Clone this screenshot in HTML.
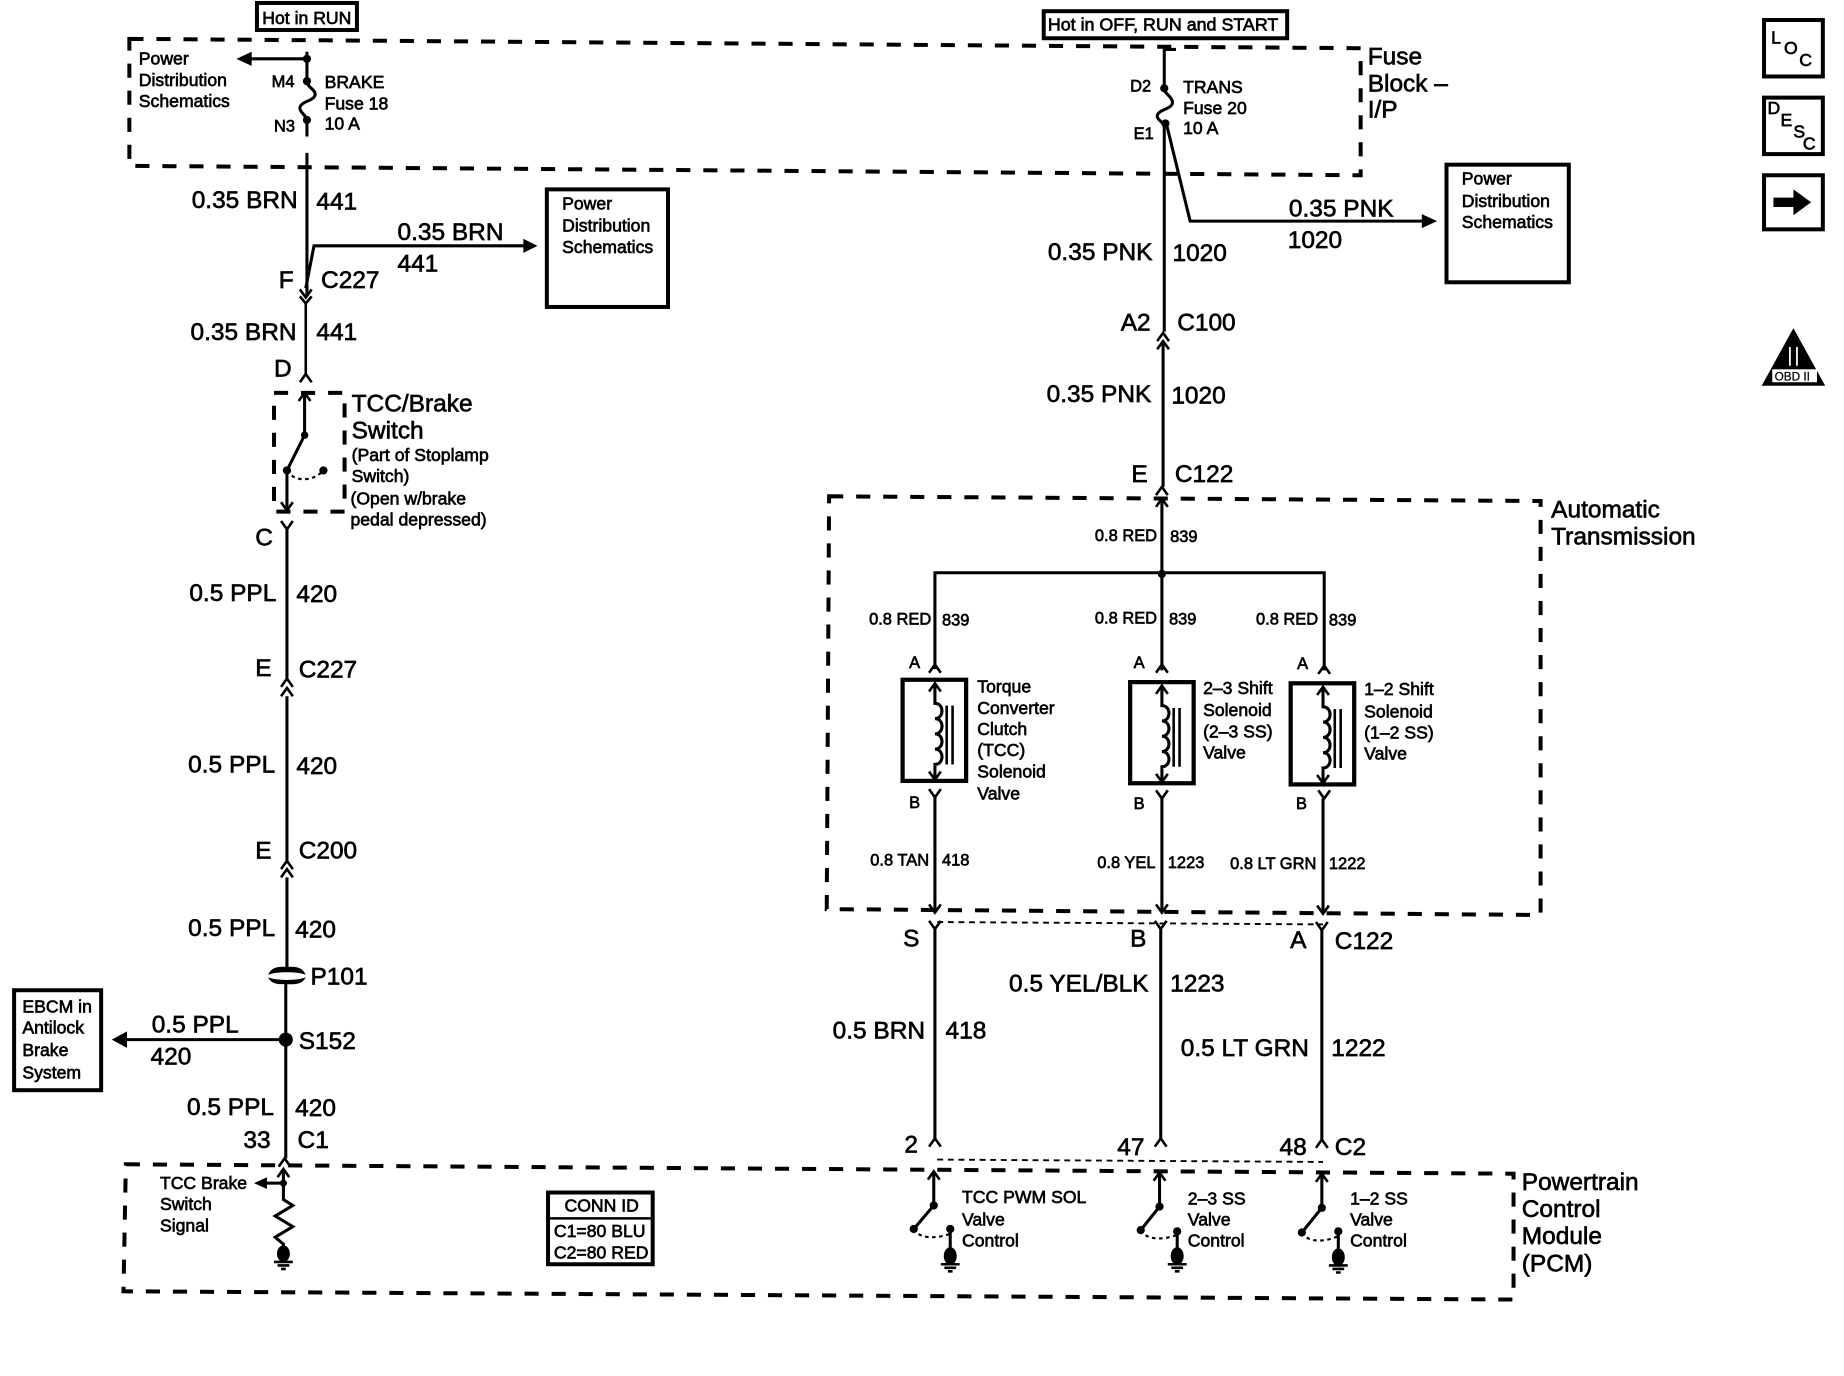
<!DOCTYPE html>
<html><head><meta charset="utf-8"><style>
html,body{margin:0;padding:0;background:#fff}
svg{display:block}
text{font-family:"Liberation Sans",sans-serif;fill:#000;stroke:#000;stroke-width:.55}
.l{font-size:20.8px}.m{font-size:15px}.s{font-size:14px}
.w{fill:none;stroke:#000;stroke-width:2.6}
.c{fill:none;stroke:#000;stroke-width:2.2}
.d{fill:none;stroke:#000;stroke-width:3.4;stroke-dasharray:12 11}
.b{fill:none;stroke:#000;stroke-width:3.4}
.f{fill:#000;stroke:none}
</style></head><body>
<svg width="1844" height="1376" viewBox="0 0 1568 1170" xmlns="http://www.w3.org/2000/svg">
<rect width="1568" height="1170" fill="#fff"/>
<!-- dashed boxes -->
<path class="d" d="M110 33L1157 41L1157 149L110 141Z"/>
<path class="d" d="M705 422L1310 426L1310 778L703 773Z"/>
<path class="d" d="M107 990L1287 998L1287 1105L105 1098Z"/>
<rect x="233" y="334" width="60" height="101" class="d" stroke-dasharray="12 10"/>
<path d="M797 784L1125 786M797 986L1125 988" fill="none" stroke="#000" stroke-width="1.6" stroke-dasharray="5 4"/>
<!-- top boxes -->
<rect x="218.500" y="2.500" width="85" height="23" class="b"/>
<text class="m" x="223" y="20.500">Hot in RUN</text>
<rect x="887.500" y="9.500" width="207" height="23" class="b"/>
<text class="m" x="891" y="26" textLength="196" lengthAdjust="spacingAndGlyphs">Hot in OFF, RUN and START</text>
<!-- left fuse -->
<path class="w" d="M261 44V69C261 74 268 76 268 80C268 86 255 86 255 92C255 96 261 98 261 103V116M261 130V252"/>
<circle class="f" cx="261" cy="50" r="3.500"/><circle class="f" cx="261" cy="69" r="3.500"/><circle class="f" cx="261" cy="102" r="3.500"/>
<path class="w" d="M261 50H212"/><path class="f" d="M201 50L214 44V56Z"/>
<text class="m" x="118" y="55">Power</text><text class="m" x="118" y="73">Distribution</text><text class="m" x="118" y="91">Schematics</text>
<text class="s" x="231" y="74">M4</text><text class="s" x="233" y="112">N3</text>
<text class="m" x="276" y="75">BRAKE</text><text class="m" x="276" y="93">Fuse 18</text><text class="m" x="276" y="110">10 A</text>
<text class="l" x="163" y="177">0.35 BRN</text><text class="l" x="269" y="178">441</text>
<path class="w" d="M260 245L267 209H446"/><path class="f" d="M457 209L445 203V215Z"/>
<text class="l" x="338" y="204">0.35 BRN</text><text class="l" x="338" y="231">441</text>
<rect x="465" y="161" width="103" height="100" class="b"/>
<text class="m" x="478" y="178">Power</text><text class="m" x="478" y="197">Distribution</text><text class="m" x="478" y="215">Schematics</text>
<text class="l" x="237" y="245">F</text><text class="l" x="273" y="245">C227</text>
<path class="c" d="M255 246L260 253L265 246M255 252L260 258L265 252M260 258V318M255 325L260 318L265 325"/>
<text class="l" x="162" y="289">0.35 BRN</text><text class="l" x="269" y="289">441</text>
<text class="l" x="233" y="320">D</text>
<!-- switch -->
<path class="w" d="M259 335V370L244 400V434"/>
<path class="c" d="M254 341L259 334L264 341M239 427L244 434L249 427"/>
<path d="M244 400C250 410 266 410 275 400" fill="none" stroke="#000" stroke-width="1.800" stroke-dasharray="3 3"/>
<circle class="f" cx="259" cy="370" r="3.200"/><circle class="f" cx="244" cy="400" r="3.500"/><circle class="f" cx="275" cy="400" r="3.500"/>
<text class="l" x="299" y="350">TCC/Brake</text><text class="l" x="299" y="373">Switch</text>
<text class="m" x="299" y="392">(Part of Stoplamp</text><text class="m" x="299" y="410">Switch)</text><text class="m" x="298" y="429">(Open w/brake</text><text class="m" x="298" y="447">pedal depressed)</text>
<text class="l" x="217" y="464">C</text>
<path class="c" d="M239 443L244 450L249 443"/>
<path class="w" d="M244 450V577M244 592V732M244 746V825M243 835V985"/>
<text class="l" x="161" y="511">0.5 PPL</text><text class="l" x="252" y="512">420</text>
<text class="l" x="217" y="575">E</text><text class="l" x="254" y="576">C227</text>
<path class="c" d="M239 584L244 577L249 584M239 592L244 585L249 592"/>
<text class="l" x="160" y="657">0.5 PPL</text><text class="l" x="252" y="658">420</text>
<text class="l" x="217" y="730">E</text><text class="l" x="254" y="730">C200</text>
<path class="c" d="M239 739L244 732L249 739M239 746L244 739L249 746"/>
<text class="l" x="160" y="796">0.5 PPL</text><text class="l" x="251" y="797">420</text>
<path class="f" d="M228 829C231 822 236 822 244 822C252 822 257 822 260 829C254 826 234 826 228 829ZM228 831C234 834 254 834 260 831C257 837 252 837 244 837C236 837 231 837 228 831Z"/>
<text class="l" x="264" y="837">P101</text>
<circle class="f" cx="243" cy="884" r="6"/>
<path class="w" d="M243 884H106"/><path class="f" d="M95 884L108 877V891Z"/>
<text class="l" x="129" y="878">0.5 PPL</text><text class="l" x="128" y="905">420</text>
<text class="l" x="254" y="892">S152</text>
<rect x="12" y="842" width="74" height="85" class="b"/>
<text class="m" x="19" y="861">EBCM in</text><text class="m" x="19" y="879">Antilock</text><text class="m" x="19" y="898">Brake</text><text class="m" x="19" y="917">System</text>
<text class="l" x="159" y="948">0.5 PPL</text><text class="l" x="251" y="949">420</text>
<text class="l" x="207" y="976">33</text><text class="l" x="253" y="976">C1</text>
<path class="c" d="M237 992L242 985L247 992M236 1001L241 994L246 1001"/>
<path class="w" d="M241 995V1020L249 1025L234 1034L249 1043L234 1052L241 1058V1066"/>
<circle class="f" cx="241" cy="1006" r="3"/>
<path class="w" d="M241 1006H226"/><path class="f" d="M216 1006L227 1001V1011Z"/>
<ellipse class="f" cx="241" cy="1066" rx="5.500" ry="7"/>
<path class="c" d="M233 1073H249M236 1076H246M239 1079H243"/>
<text class="m" x="136" y="1011">TCC Brake</text><text class="m" x="136" y="1029">Switch</text><text class="m" x="136" y="1047">Signal</text>
<!-- conn id -->
<rect x="466" y="1014" width="89" height="61" class="b"/>
<path class="c" d="M466 1036H555"/>
<text class="m" x="480" y="1030">CONN ID</text><text class="m" x="471" y="1052">C1=80 BLU</text><text class="m" x="471" y="1070">C2=80 RED</text>
<!-- right fuse -->
<path class="w" d="M1000 42H990V75C990 80 997 82 997 87C997 93 984 93 984 99C984 102 990 104 990 108V282M992 106L1012 188H1210"/>
<circle class="f" cx="990" cy="75" r="3.500"/><circle class="f" cx="991" cy="105" r="3.500"/>
<path class="f" d="M1222 188L1209 182V194Z"/>
<text class="s" x="961" y="78">D2</text><text class="s" x="964" y="118">E1</text>
<text class="m" x="1006" y="79">TRANS</text><text class="m" x="1006" y="97">Fuse 20</text><text class="m" x="1006" y="114">10 A</text>
<text class="l" x="1163" y="55">Fuse</text><text class="l" x="1163" y="78">Block –</text><text class="l" x="1163" y="100">I/P</text>
<text class="l" x="1096" y="184">0.35 PNK</text><text class="l" x="1095" y="211">1020</text>
<rect x="1230" y="140" width="104" height="100" class="b"/>
<text class="m" x="1243" y="157">Power</text><text class="m" x="1243" y="176">Distribution</text><text class="m" x="1243" y="194">Schematics</text>
<text class="l" x="891" y="221">0.35 PNK</text><text class="l" x="997" y="222">1020</text>
<text class="l" x="953" y="281">A2</text><text class="l" x="1001" y="281">C100</text>
<path class="c" d="M984 290L989 283L994 290M984 297L989 290L994 297"/>
<path class="w" d="M989 292V414M988 426V570"/>
<text class="l" x="890" y="342">0.35 PNK</text><text class="l" x="996" y="343">1020</text>
<text class="l" x="962" y="410">E</text><text class="l" x="999" y="410">C122</text>
<path class="c" d="M983 421L988 414L993 421M983 431L988 424L993 431"/>
<text class="l" x="1319" y="440">Automatic</text><text class="l" x="1319" y="463">Transmission</text>
<text class="s" x="931" y="460">0.8 RED</text><text class="s" x="995" y="461">839</text>
<path class="w" d="M795 569V487H1126V570"/>
<circle class="f" cx="988" cy="488" r="3.500"/>
<text class="s" x="739" y="531">0.8 RED</text><text class="s" x="801" y="532">839</text>
<text class="s" x="931" y="530">0.8 RED</text><text class="s" x="994" y="531">839</text>
<text class="s" x="1068" y="531">0.8 RED</text><text class="s" x="1130" y="532">839</text>
<text class="s" x="773" y="568">A</text><text class="s" x="964" y="568">A</text><text class="s" x="1103" y="569">A</text>
<path class="c" d="M790 572L795 565L800 572M983 572L988 565L993 572M1121 573L1126 566L1131 573"/>
<!-- solenoids -->
<rect x="767.500" y="578" width="54" height="86" fill="none" stroke="#000" stroke-width="3.600"/>
<rect x="961" y="580" width="54" height="86" fill="none" stroke="#000" stroke-width="3.600"/>
<rect x="1097.500" y="581" width="54" height="86" fill="none" stroke="#000" stroke-width="3.600"/>
<g><path class="w" d="M795 582V598C803 598 803 611 795 611C803 611 803 624 795 624C803 624 803 637 795 637C803 637 803 650 795 650V663"/>
<path class="c" d="M790 588L795 581L800 588M790 656L795 663L800 656M805 600V650M810 600V650"/></g>
<g transform="translate(193,2)"><path class="w" d="M795 582V598C803 598 803 611 795 611C803 611 803 624 795 624C803 624 803 637 795 637C803 637 803 650 795 650V663"/>
<path class="c" d="M790 588L795 581L800 588M790 656L795 663L800 656M805 600V650M810 600V650"/></g>
<g transform="translate(330,3)"><path class="w" d="M795 582V598C803 598 803 611 795 611C803 611 803 624 795 624C803 624 803 637 795 637C803 637 803 650 795 650V663"/>
<path class="c" d="M790 588L795 581L800 588M790 656L795 663L800 656M805 600V650M810 600V650"/></g>
<text class="m" x="831" y="589">Torque</text><text class="m" x="831" y="607">Converter</text><text class="m" x="831" y="625">Clutch</text><text class="m" x="831" y="643">(TCC)</text><text class="m" x="831" y="661">Solenoid</text><text class="m" x="831" y="680">Valve</text>
<text class="m" x="1023" y="590">2–3 Shift</text><text class="m" x="1023" y="609">Solenoid</text><text class="m" x="1023" y="627">(2–3 SS)</text><text class="m" x="1023" y="645">Valve</text>
<text class="m" x="1160" y="591">1–2 Shift</text><text class="m" x="1160" y="610">Solenoid</text><text class="m" x="1160" y="628">(1–2 SS)</text><text class="m" x="1160" y="646">Valve</text>
<text class="s" x="773" y="687">B</text><text class="s" x="964" y="688">B</text><text class="s" x="1102" y="688">B</text>
<path class="c" d="M790 671L795 678L800 671M983 672L988 679L993 672M1121 672L1126 679L1131 672"/>
<path class="w" d="M795 678V776M988 679V776M1125 679V777"/>
<path class="c" d="M790 769L795 776L800 769M983 769L988 776L993 769M1120 770L1125 777L1130 770"/>
<text class="s" x="740" y="736">0.8 TAN</text><text class="s" x="801" y="736">418</text>
<text class="s" x="933" y="738">0.8 YEL</text><text class="s" x="993" y="738">1223</text>
<text class="s" x="1046" y="739">0.8 LT GRN</text><text class="s" x="1130" y="739">1222</text>
<!-- lower wires -->
<path class="c" d="M790 783L795 790L800 783M982 783L987 790L992 783M1119 784L1124 791L1129 784"/>
<path class="w" d="M795 790V968M987 790V968M1124 791V969"/>
<path class="c" d="M790 975L795 968L800 975M982 975L987 968L992 975M1119 976L1124 969L1129 976"/>
<text class="l" x="768" y="805">S</text><text class="l" x="961" y="805">B</text><text class="l" x="1097" y="806">A</text><text class="l" x="1135" y="807">C122</text>
<text class="l" x="858" y="843">0.5 YEL/BLK</text><text class="l" x="995" y="843">1223</text>
<text class="l" x="708" y="883">0.5 BRN</text><text class="l" x="804" y="883">418</text>
<text class="l" x="1004" y="898">0.5 LT GRN</text><text class="l" x="1132" y="898">1222</text>
<text class="l" x="769" y="980">2</text><text class="l" x="950" y="982">47</text><text class="l" x="1088" y="982">48</text><text class="l" x="1135" y="982">C2</text>
<!-- PCM switches -->
<path class="w" d="M794 996V1025L777 1045M808 1045V1066"/>
<path class="w" d="M986 997V1026L970 1046M1001 1047V1066"/>
<path class="w" d="M1124 998V1027L1107 1048M1138 1047V1066"/>
<path class="c" d="M789 1003L794 996L799 1003M981 1004L986 997L991 1004M1119 1005L1124 998L1129 1005"/>
<path d="M777 1045C781 1053 795 1054 808 1049M970 1046C974 1054 988 1055 1001 1050M1107 1048C1111 1056 1125 1057 1138 1051" fill="none" stroke="#000" stroke-width="1.800" stroke-dasharray="3 3"/>
<circle class="f" cx="794" cy="1025" r="3.500"/><circle class="f" cx="777" cy="1045" r="3.500"/><circle class="f" cx="808" cy="1045" r="3.500"/>
<circle class="f" cx="986" cy="1026" r="3.500"/><circle class="f" cx="970" cy="1046" r="3.500"/><circle class="f" cx="1001" cy="1047" r="3.500"/>
<circle class="f" cx="1124" cy="1027" r="3.500"/><circle class="f" cx="1107" cy="1048" r="3.500"/><circle class="f" cx="1138" cy="1047" r="3.500"/>
<ellipse class="f" cx="808" cy="1068" rx="5.500" ry="7.500"/><path class="c" d="M800 1075H816M803 1078H813M806 1081H810"/>
<ellipse class="f" cx="1001" cy="1068" rx="5.500" ry="7.500"/><path class="c" d="M993 1075H1009M996 1078H1006M999 1081H1003"/>
<ellipse class="f" cx="1138" cy="1069" rx="5.500" ry="7.500"/><path class="c" d="M1130 1076H1146M1133 1079H1143M1136 1082H1140"/>
<text class="m" x="818" y="1023">TCC PWM SOL</text><text class="m" x="818" y="1042">Valve</text><text class="m" x="818" y="1060">Control</text>
<text class="m" x="1010" y="1024">2–3 SS</text><text class="m" x="1010" y="1042">Valve</text><text class="m" x="1010" y="1060">Control</text>
<text class="m" x="1148" y="1024">1–2 SS</text><text class="m" x="1148" y="1042">Valve</text><text class="m" x="1148" y="1060">Control</text>
<text class="l" x="1294" y="1012">Powertrain</text><text class="l" x="1294" y="1035">Control</text><text class="l" x="1294" y="1058">Module</text><text class="l" x="1294" y="1081">(PCM)</text>
<!-- right icons -->
<rect x="1500" y="17" width="50" height="48" class="b"/>
<text class="m" x="1506" y="37">L</text><text class="m" x="1517" y="46">O</text><text class="m" x="1530" y="56">C</text>
<rect x="1500" y="83" width="50" height="48" class="b"/>
<text class="m" x="1503" y="97">D</text><text class="m" x="1514" y="107">E</text><text class="m" x="1525" y="117">S</text><text class="m" x="1533" y="127">C</text>
<rect x="1500" y="149" width="50" height="46" class="b"/>
<path class="f" d="M1508 168H1525V161L1540 172L1525 183V176H1508Z"/>
<path class="f" d="M1525 279L1498 328H1552Z"/>
<rect x="1507" y="314" width="38" height="11" fill="#fff"/>
<text x="1509" y="323.500" style="font-size:10px;stroke-width:.2">OBD II</text>
<path d="M1522 295V311M1528 295V311" stroke="#fff" stroke-width="1.500"/>
</svg>
</body></html>
